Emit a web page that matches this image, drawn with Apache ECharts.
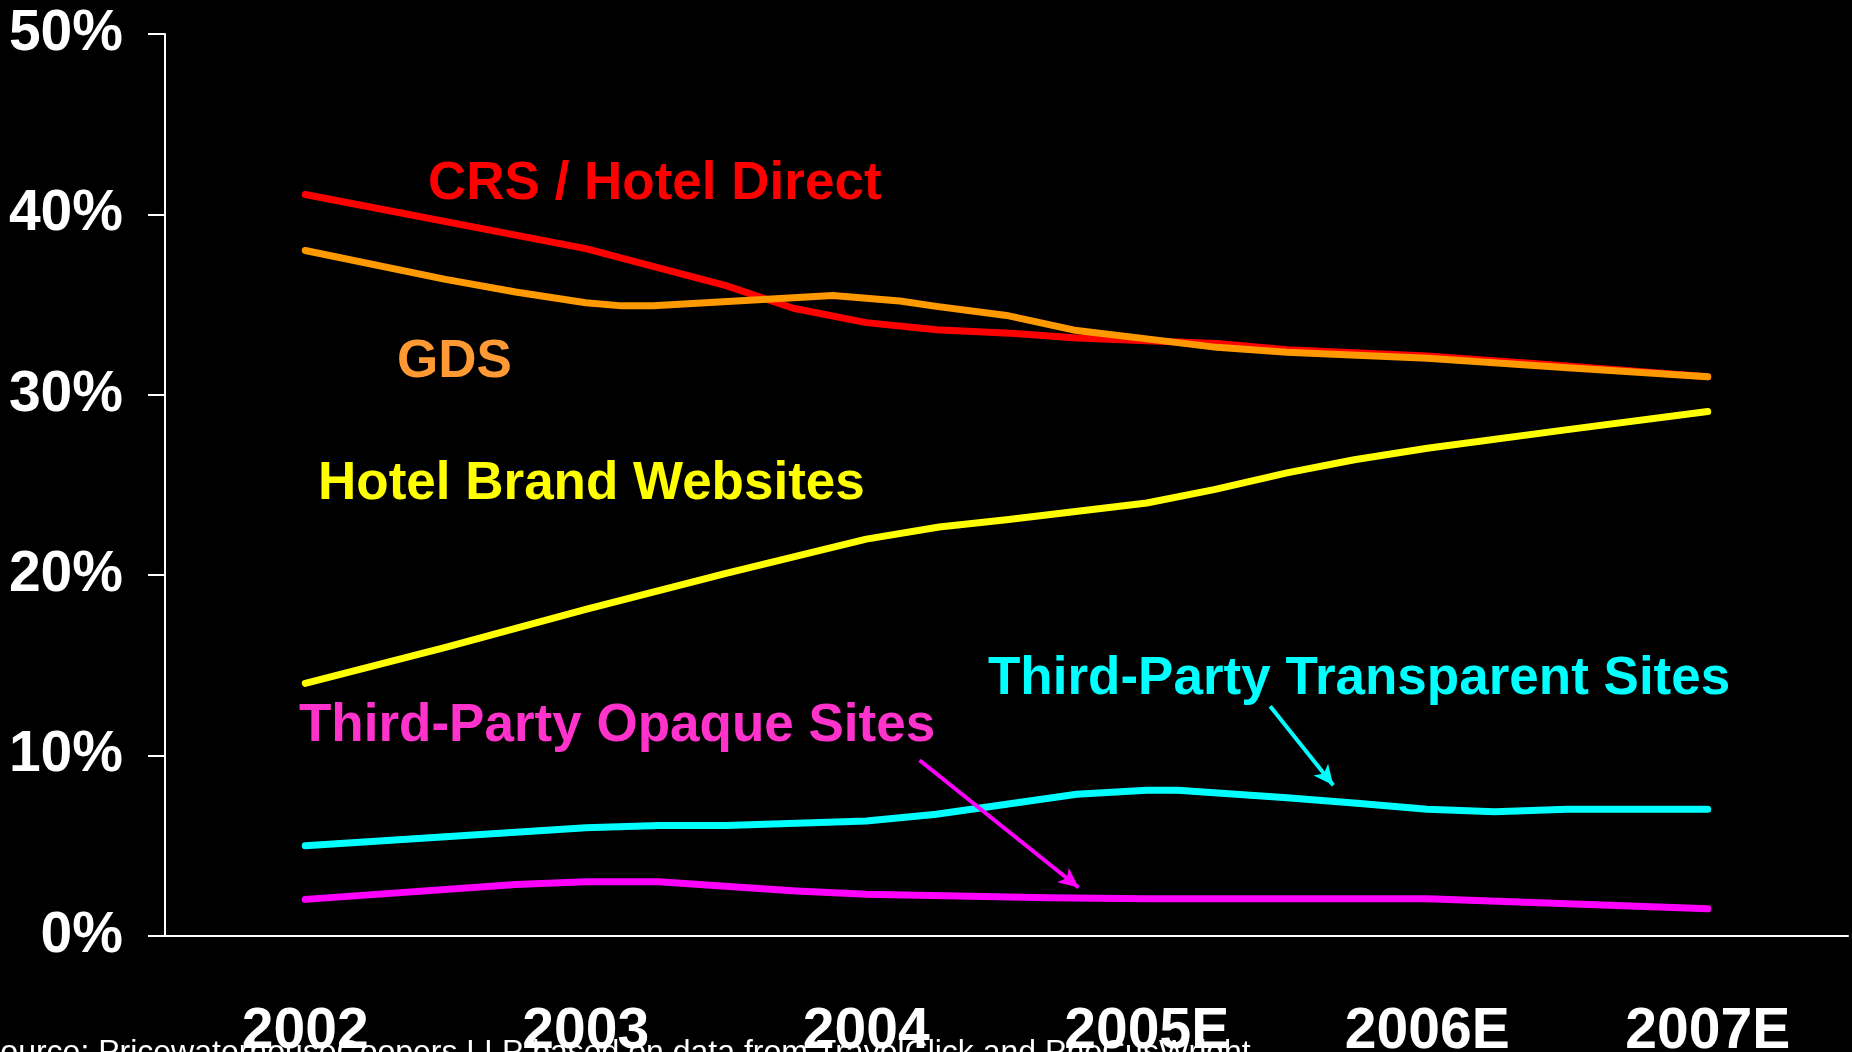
<!DOCTYPE html>
<html>
<head>
<meta charset="utf-8">
<script src="https://cdn.jsdelivr.net/npm/echarts@6/dist/echarts.min.js"></script>
<style>
  html, body { margin: 0; padding: 0; background: #000; }
  #main { width: 1852px; height: 1052px; }
</style>
</head>
<body>
<div id="main"></div>
<script>
// years on the category axis, series as [year offset from 2002, share %]
const years = ['2002', '2003', '2004', '2005E', '2006E', '2007E']
const yTicks = [0, 10, 20, 30, 40, 50]

const crsDirect = [[0, 41.1], [1, 38.1], [1.5, 36.05], [1.74, 34.8], [2, 34.0], [2.25, 33.6],
  [2.53, 33.4], [2.75, 33.15], [3, 33.0], [3.25, 32.85], [3.5, 32.5], [4, 32.15], [4.5, 31.6], [5, 31.0]]
const gds = [[0, 38.0], [0.5, 36.4], [0.75, 35.7], [1, 35.1], [1.13, 34.93], [1.24, 34.93],
  [1.88, 35.5], [2.12, 35.2], [2.25, 34.9], [2.5, 34.4], [2.75, 33.56], [3, 33.1], [3.25, 32.63],
  [3.5, 32.36], [4, 32.03], [4.5, 31.5], [5, 31.0]]
const hotelBrand = [[0, 14.0], [0.5, 16.0], [1, 18.1], [1.5, 20.1], [2, 22.0], [2.26, 22.67],
  [2.5, 23.07], [3, 24.0], [3.24, 24.74], [3.5, 25.67], [3.74, 26.4], [4, 27.04], [4.5, 28.07], [5, 29.07]]
const transparent = [[0, 5.0], [1, 6.0], [1.26, 6.13], [1.5, 6.13], [2, 6.37], [2.25, 6.75],
  [2.75, 7.86], [3, 8.08], [3.11, 8.08], [3.5, 7.67], [3.76, 7.35], [4, 7.02], [4.24, 6.89], [4.5, 7.02], [5, 7.02]]
const opaque = [[0, 2.03], [0.75, 2.86], [1, 3.01], [1.26, 3.01], [1.75, 2.49], [2, 2.31],
  [2.65, 2.12], [3, 2.06], [4, 2.06], [5, 1.51]]

// annotation arrows (from, to) in data units
const transparentArrow = [[3.44, 12.74], [3.665, 8.36]]
const opaqueArrow = [[2.19, 9.74], [2.757, 2.69]]

const labelFont = 'Liberation Sans'

function arrow (pts, color) {
  return {
    silent: true,
    symbol: ['none', 'arrow'],
    symbolSize: [14, 20],
    label: { show: false },
    lineStyle: { color: color, width: 4, type: 'solid' },
    data: [[{ coord: pts[0] }, { coord: pts[1] }]]
  }
}

function line (name, data, color, extra) {
  return Object.assign({
    name: name,
    type: 'line',
    xAxisIndex: 1,
    data: data,
    showSymbol: false,
    symbol: 'none',
    animation: false,
    lineStyle: { color: color, width: 7, cap: 'round', join: 'round' }
  }, extra || {})
}

function tag (text, x, y, color) {
  return {
    type: 'text', x: x, y: y,
    style: { text: text, fill: color, font: 'bold 53px ' + labelFont, verticalAlign: 'middle' }
  }
}

const myChart = echarts.init(document.getElementById('main'))
myChart.setOption({
  backgroundColor: '#000',
  animation: false,
  grid: { left: 165, right: 4, top: 34, bottom: 116, outerBoundsMode: 'none' },
  xAxis: [
    {
      type: 'category',
      data: years,
      axisLine: { lineStyle: { color: '#fff', width: 2 } },
      axisTick: { length: 19, lineStyle: { color: '#fff', width: 2 } },
      axisLabel: { color: '#fff', fontSize: 57, fontWeight: 'bold', fontFamily: labelFont, margin: 68 }
    },
    { type: 'value', min: -0.5, max: 5.5, show: false }
  ],
  yAxis: {
    type: 'value',
    min: yTicks[0],
    max: yTicks[yTicks.length - 1],
    interval: 10,
    splitLine: { show: false },
    axisLine: { show: true, onZero: false, lineStyle: { color: '#fff', width: 2 } },
    axisTick: { show: true, length: 17, lineStyle: { color: '#fff', width: 2 } },
    axisLabel: { color: '#fff', fontSize: 57, fontWeight: 'bold', fontFamily: labelFont, margin: 42, formatter: '{value}%' }
  },
  series: [
    line('CRS / Hotel Direct', crsDirect, '#FF0000'),
    line('GDS', gds, '#FF9900'),
    line('Hotel Brand Websites', hotelBrand, '#FFFF00'),
    line('Third-Party Transparent Sites', transparent, '#00FFFF', { markLine: arrow(transparentArrow, '#00FFFF') }),
    line('Third-Party Opaque Sites', opaque, '#FF00FF', { markLine: arrow(opaqueArrow, '#FF00FF') })
  ],
  graphic: [
    {
      type: 'text', x: -21, y: 1053, z: -10,
      style: { text: 'Source: PricewaterhouseCoopers LLP based on data from TravelClick and PhoCusWright',
        fill: '#fff', font: '32px ' + labelFont, verticalAlign: 'middle' }
    },
    tag('CRS / Hotel Direct', 428, 184, '#FF0000'),
    tag('GDS', 397, 362, '#FF9933'),
    tag('Hotel Brand Websites', 318, 484, '#FFFF00'),
    tag('Third-Party Transparent Sites', 988, 679, '#00FFFF'),
    tag('Third-Party Opaque Sites', 299, 726, '#FF33CC')
  ]
})
</script>
</body>
</html>
